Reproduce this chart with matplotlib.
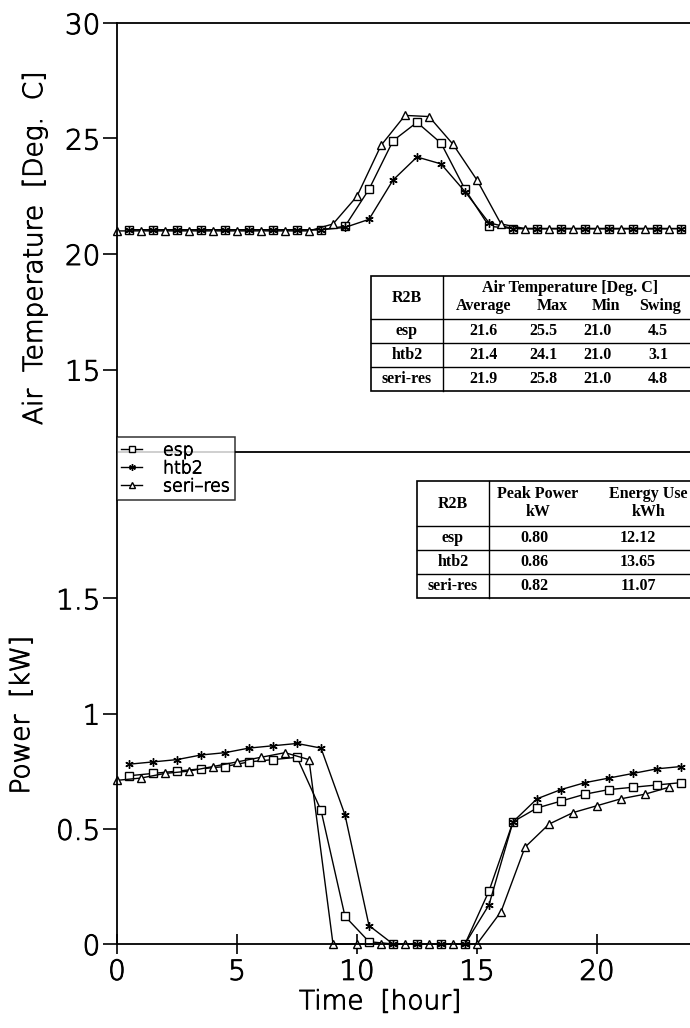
import matplotlib
matplotlib.use('Agg')
import matplotlib.pyplot as plt
import matplotlib.patheffects as pe
import numpy as np

# hourly samples: seri-res on the hour, esp / htb2 on the half hour
t_hour = np.arange(0, 24)
t_half = np.arange(0.5, 24, 1.0)

temp_esp = [21.05, 21.05, 21.05, 21.05, 21.05, 21.05, 21.05, 21.05, 21.05, 21.2,
            22.8, 24.9, 25.7, 24.8, 22.8, 21.2, 21.1, 21.1, 21.1, 21.1,
            21.1, 21.1, 21.1, 21.1]
temp_htb2 = [21.05, 21.05, 21.05, 21.05, 21.05, 21.05, 21.05, 21.05, 21.05, 21.15,
             21.5, 23.2, 24.2, 23.9, 22.7, 21.35, 21.1, 21.1, 21.1, 21.1,
             21.1, 21.1, 21.1, 21.1]
temp_seri = [21.0, 21.0, 21.0, 21.0, 21.0, 21.0, 21.0, 21.0, 21.0, 21.3,
             22.5, 24.7, 26.0, 25.95, 24.75, 23.2, 21.3, 21.1, 21.1, 21.1,
             21.1, 21.1, 21.1, 21.1]

pow_esp = [0.73, 0.74, 0.75, 0.76, 0.77, 0.79, 0.80, 0.81, 0.58, 0.12,
           0.01, 0.0, 0.0, 0.0, 0.0, 0.23, 0.53, 0.59, 0.62, 0.65,
           0.67, 0.68, 0.69, 0.70]
pow_htb2 = [0.78, 0.79, 0.80, 0.82, 0.83, 0.85, 0.86, 0.87, 0.85, 0.56,
            0.08, 0.0, 0.0, 0.0, 0.0, 0.17, 0.53, 0.63, 0.67, 0.70,
            0.72, 0.74, 0.76, 0.77]
pow_seri = [0.71, 0.72, 0.74, 0.75, 0.77, 0.79, 0.81, 0.83, 0.80, 0.0,
            0.0, 0.0, 0.0, 0.0, 0.0, 0.0, 0.14, 0.42, 0.52, 0.57,
            0.60, 0.63, 0.65, 0.68]

series = ['esp', 'htb2', 'seri-res']
legend_labels = ['esp', 'htb2', 'seri\u2013res']
markers = ['s', (6, 2, 0), '^']

temp_cols = ['Average', 'Max', 'Min', 'Swing']
temp_table = [['21.6', '25.5', '21.0', '4.5'],
              ['21.4', '24.1', '21.0', '3.1'],
              ['21.9', '25.8', '21.0', '4.8']]
power_cols = [('Peak Power', 'kW'), ('Energy Use', 'kWh')]
power_table = [['0.80', '12.12'],
               ['0.86', '13.65'],
               ['0.82', '11.07']]

W, H = 690, 1028
plt.rcParams['font.family'] = ['DejaVu Sans']
plt.rcParams['font.weight'] = 'light'
fig = plt.figure(figsize=(6.9, 10.28), dpi=100)

# thin font looks too faint on its own, give it a slight outline
thick = [pe.withStroke(linewidth=0.7, foreground='black')]

x0, x1 = 117 / W, 693 / W
ax_t = fig.add_axes([x0, 1 - 452 / H, x1 - x0, (452 - 23) / H])
ax_p = fig.add_axes([x0, 1 - 944 / H, x1 - x0, (944 - 452) / H])

line_kw = dict(color='black', lw=1.0, mfc='white', mec='black', ms=6, mew=1.0)
for t, y, m, lab in [(t_half, temp_esp, markers[0], legend_labels[0]),
                     (t_half, temp_htb2, markers[1], legend_labels[1]),
                     (t_hour, temp_seri, markers[2], legend_labels[2])]:
    ax_t.plot(t, y, marker=m, label=lab, clip_on=False, **line_kw)
for t, y, m in [(t_half, pow_esp, markers[0]),
                (t_half, pow_htb2, markers[1]),
                (t_hour, pow_seri, markers[2])]:
    ax_p.plot(t, y, marker=m, clip_on=False, **line_kw)

for ax in (ax_t, ax_p):
    ax.set_xlim(0, 24)
    ax.spines['right'].set_visible(False)
    for s in ax.spines.values():
        s.set_linewidth(1.3)
    ax.tick_params(axis='y', direction='out', length=10, width=1.2, labelsize=20, pad=2)

ax_t.set_ylim(30 - 429 / 23.1, 30)
ax_t.set_yticks([15, 20, 25, 30])
ax_t.set_yticklabels(['15', '20', '25', '30'])
ax_t.set_xticks([])
ax_t.spines['bottom'].set_visible(False)
ax_t.set_ylabel('Air  Temperature  [Deg.  C]', fontsize=19, fontweight='light')
ax_t.yaxis.set_label_coords(-0.1215, 0.475)

ax_p.set_ylim(0, 492 / 230.5)
ax_p.set_yticks([0, 0.5, 1, 1.5])
ax_p.set_yticklabels(['0', '0.5', '1', '1.5'])
ax_p.set_xticks([0, 5, 10, 15, 20])
ax_p.tick_params(axis='x', direction='inout', length=14, width=1.2, labelsize=20, pad=3)
ax_p.set_xlabel('Time  [hour]', fontsize=19, fontweight='light')
ax_p.xaxis.set_label_coords(0.457, -0.092)
ax_p.set_ylabel('Power  [kW]', fontsize=19, fontweight='light')
ax_p.yaxis.set_label_coords(-0.144, 0.465)

for ax in (ax_t, ax_p):
    for lbl in ax.get_xticklabels() + ax.get_yticklabels():
        lbl.set_path_effects(thick)
    ax.xaxis.label.set_path_effects(thick)
    ax.yaxis.label.set_path_effects(thick)

leg = fig.legend(loc='upper left', bbox_to_anchor=(x0, 1 - 437 / H), borderaxespad=0,
                 frameon=True, fancybox=False, fontsize=12.5, handlelength=1.2,
                 handletextpad=1.2, labelspacing=0.0, borderpad=0.25, markerscale=0.8)
leg.get_frame().set_edgecolor('black')
leg.get_frame().set_linewidth(1.1)
leg.set_zorder(10)
for txt in leg.get_texts():
    txt.set_path_effects(thick)

# overlay in pixel coordinates for the two summary tables
ov = fig.add_axes([0, 0, 1, 1], zorder=5)
ov.set_xlim(0, W)
ov.set_ylim(H, 0)
ov.axis('off')

serif = dict(family='Liberation Serif', fontweight='bold', fontsize=11.5, ha='center', va='center')


def draw_table(left, right, top, head_bot, row_h, split, col_x, head_lines, rows):
    bottom = head_bot + row_h * len(rows)
    ov.add_patch(plt.Rectangle((left, top), right - left, bottom - top,
                               fc='white', ec='black', lw=1.2))
    ov.plot([split, split], [top, bottom], color='black', lw=1.0)
    for k in range(len(rows)):
        y = head_bot + k * row_h
        ov.plot([left, right], [y, y], color='black', lw=1.0)
    ov.text((left + split) / 2, (top + head_bot) / 2, 'R2B', **serif)
    for txt, x, y in head_lines:
        ov.text(x, y, txt, **serif)
    for k, (name, vals) in enumerate(zip(series, rows)):
        yc = head_bot + (k + 0.5) * row_h
        ov.text((left + split) / 2, yc, name, **serif)
        for x, v in zip(col_x, vals):
            ov.text(x, yc, v, **serif)


heads1 = [('Air Temperature [Deg. C]', 570, 288)] + \
         [(c, x, 306) for c, x in zip(temp_cols, [484, 552, 606, 660])]
draw_table(371, 700, 276, 319, 24, 443, [483, 543, 598, 658], heads1, temp_table)

heads2 = []
for (a, b), x in zip(power_cols, [538, 648]):
    heads2 += [(a, x, 494), (b, x, 512)]
draw_table(417, 700, 481, 526, 24, 489, [534, 638], heads2, power_table)

fig.savefig('out.png', dpi=100)
